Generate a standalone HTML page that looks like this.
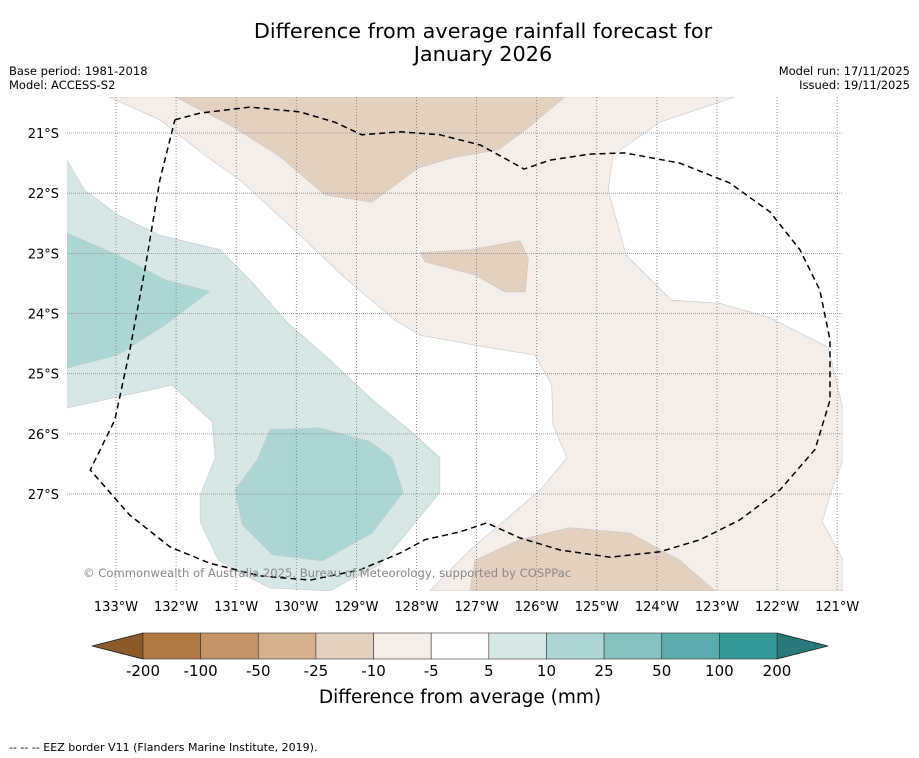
<!DOCTYPE html>
<html><head><meta charset="utf-8">
<style>
body{margin:0;background:#fff;font-family:"Liberation Sans","DejaVu Sans",sans-serif;}
svg{display:block}
</style></head>
<body>
<svg id="chart" width="919" height="758" viewBox="0 0 919 758" xmlns="http://www.w3.org/2000/svg">
<text x="483" y="38" text-anchor="middle" font-size="20.8" font-family="DejaVu Sans, sans-serif">Difference from average rainfall forecast for</text>
<text x="483" y="61" text-anchor="middle" font-size="20.8" font-family="DejaVu Sans, sans-serif">January 2026</text>
<text x="9" y="75" font-size="11.5" font-family="DejaVu Sans, sans-serif">Base period: 1981-2018</text>
<text x="9" y="89" font-size="11.5" font-family="DejaVu Sans, sans-serif">Model: ACCESS-S2</text>
<text x="910" y="75" text-anchor="end" font-size="11.5" font-family="DejaVu Sans, sans-serif">Model run: 17/11/2025</text>
<text x="910" y="89" text-anchor="end" font-size="11.5" font-family="DejaVu Sans, sans-serif">Issued: 19/11/2025</text>
<defs><clipPath id="mapclip"><rect x="67" y="97" width="776" height="494"/></clipPath></defs>
<g id="fills" clip-path="url(#mapclip)"></g>
<g id="grid"></g>
<g id="eez" clip-path="url(#mapclip)"></g>
<g id="axes"></g>
<text x="83" y="577" font-size="11.6" fill="#888" font-family="DejaVu Sans, sans-serif">© Commonwealth of Australia 2025, Bureau of Meteorology, supported by COSPPac</text>
<g id="cbar"></g>
<text x="460" y="703" text-anchor="middle" font-size="18.5" font-family="DejaVu Sans, sans-serif">Difference from average (mm)</text>
<text x="9" y="751" font-size="11" font-family="DejaVu Sans, sans-serif">--  --  -- EEZ border V11 (Flanders Marine Institute, 2019).</text>
</svg>
<script>
// axis data
const lonTicks = [133,132,131,130,129,128,127,126,125,124,123,122,121];
const latTicks = [21,22,23,24,25,26,27];
const cbLevels = [-200,-100,-50,-25,-10,-5,5,10,25,50,100,200];
const cbColors = ["#b07a42","#c29467","#d4b08f","#e4d0bf","#f4ede8","#ffffff","#d5e8e7","#acd6d6","#84c1bf","#5aabab","#339a98"];
const cbUnder = "#8c5a28";
const cbOver = "#27797a";
// contour polygons: [lonW, latS]
const polyLightBrown = [[133.13,20.40],[122.70,20.40],[123.95,20.82],[124.73,21.37],[124.81,21.95],[124.51,23.03],[123.75,23.78],[122.95,23.83],[122.12,24.07],[121.15,24.56],[120.90,25.60],[120.90,26.43],[121.09,26.93],[121.25,27.46],[120.90,28.10],[120.90,28.61],[127.78,28.61],[127.11,27.93],[125.94,26.93],[125.50,26.40],[125.73,25.85],[125.75,25.19],[126.03,24.69],[126.78,24.57],[127.94,24.36],[128.36,24.11],[129.19,23.41],[130.10,22.55],[130.94,21.78],[131.52,21.37],[132.27,20.78]];
const polyTanTop = [[132.02,20.40],[125.53,20.40],[126.19,20.95],[126.64,21.28],[127.36,21.40],[127.97,21.58],[128.74,22.15],[129.52,22.03],[130.30,21.37],[131.10,20.87]];
const polyTanMid = [[127.94,22.99],[127.11,22.94],[126.28,22.79],[126.14,23.08],[126.19,23.64],[126.53,23.64],[127.03,23.36],[127.86,23.14]];
const polyTanBottom = [[127.11,28.61],[127.03,28.10],[126.28,27.76],[125.45,27.56],[124.45,27.65],[123.62,28.10],[123.03,28.61]];
const polyTealLight = [[133.82,21.45],[133.52,21.95],[132.97,22.36],[132.27,22.70],[131.27,22.94],[130.77,23.44],[130.14,24.16],[129.44,24.77],[128.77,25.40],[128.02,26.02],[127.61,26.40],[127.61,26.97],[128.19,27.68],[128.61,28.18],[129.11,28.43],[129.44,28.61],[130.44,28.56],[130.94,28.31],[131.30,28.10],[131.60,27.46],[131.60,27.02],[131.35,26.40],[131.40,25.80],[132.07,25.19],[132.43,25.27],[133.82,25.57]];
const polyTealLeft = [[133.82,22.66],[132.97,23.03],[132.18,23.44],[131.44,23.63],[132.18,24.19],[132.97,24.69],[133.82,24.91]];
const polyTealCenter = [[130.44,25.93],[129.61,25.90],[128.77,26.13],[128.41,26.40],[128.22,26.97],[128.74,27.65],[129.57,28.11],[130.40,28.01],[130.90,27.51],[131.02,26.93],[130.65,26.43]];
const eezLine = [[132.02,20.78],[131.60,20.67],[130.77,20.57],[129.94,20.65],[129.36,20.82],[128.91,21.03],[128.27,20.98],[127.61,21.03],[126.94,21.20],[126.53,21.42],[126.21,21.60],[125.78,21.45],[125.11,21.35],[124.53,21.33],[123.62,21.50],[122.79,21.83],[122.12,22.31],[121.62,22.94],[121.29,23.61],[121.12,24.44],[121.12,25.44],[121.37,26.26],[121.95,26.93],[122.62,27.43],[123.28,27.76],[123.95,27.96],[124.78,28.05],[125.61,27.93],[126.28,27.73],[126.83,27.48],[127.28,27.63],[127.86,27.76],[128.27,27.98],[128.94,28.26],[129.77,28.43],[130.60,28.36],[131.44,28.15],[132.10,27.88],[132.77,27.35],[133.43,26.60],[133.02,25.77],[132.77,24.61],[132.52,23.28],[132.27,21.78],[132.02,20.78]];

const X0=116, PXLON=60.1, Y0=133, PXLAT=60.17;
function xs(lonW){return X0+(133-lonW)*PXLON;}
function ys(latS){return Y0+(latS-21)*PXLAT;}
const NS="http://www.w3.org/2000/svg";
function mk(tag,attrs,parent){const e=document.createElementNS(NS,tag);for(const k in attrs)e.setAttribute(k,attrs[k]);parent.appendChild(e);return e;}
function pts(p){return p.map(q=>xs(q[0]).toFixed(1)+","+ys(q[1]).toFixed(1)).join(" ");}

const fills=document.getElementById('fills');
const layers=[[polyLightBrown,cbColors[4],'light-brown-contour'],[polyTanTop,cbColors[3],'tan-contour-north'],[polyTanMid,cbColors[3],'tan-contour-center'],[polyTanBottom,cbColors[3],'tan-contour-south'],[polyTealLight,cbColors[6],'light-teal-contour'],[polyTealLeft,cbColors[7],'teal-contour-west'],[polyTealCenter,cbColors[7],'teal-contour-center']];
layers.forEach(l=>{
  const p=mk('polygon',{points:pts(l[0]),fill:l[1],stroke:'#c8c8c8','stroke-width':0.6},fills);
  
  
});

const grid=document.getElementById('grid'), axes=document.getElementById('axes');
lonTicks.forEach(v=>{
  const x=xs(v);
  const g=mk('line',{x1:x,y1:97,x2:x,y2:591,stroke:'#777','stroke-width':0.8,'stroke-dasharray':'1,2'},grid);
  
  
  const t=mk('text',{x:x,y:611,'text-anchor':'middle','font-size':13,'font-family':'DejaVu Sans, sans-serif'},axes);
  t.textContent=v+'°W';
  
  
});
latTicks.forEach(v=>{
  const y=ys(v);
  const g=mk('line',{x1:67,y1:y,x2:843,y2:y,stroke:'#888','stroke-width':0.8,'stroke-dasharray':'1,1'},grid);
  
  
  const t=mk('text',{x:59,y:y+5,'text-anchor':'end','font-size':13,'font-family':'DejaVu Sans, sans-serif'},axes);
  t.textContent=v+'°S';
  
  
});

const eez=document.getElementById('eez');
const el=mk('polyline',{points:pts(eezLine),fill:'none',stroke:'#000','stroke-width':1.5,'stroke-dasharray':'6,4'},eez);



const cb=document.getElementById('cbar');
const cbx0=143, cbx1=777, cby=633, cbh=26, n=cbColors.length, w=(cbx1-cbx0)/n;
const under=mk('polygon',{points:`${cbx0},${cby} ${cbx0},${cby+cbh} 92,${cby+cbh/2}`,fill:cbUnder,stroke:'#222','stroke-width':0.8},cb);


const over=mk('polygon',{points:`${cbx1},${cby} ${cbx1},${cby+cbh} 828,${cby+cbh/2}`,fill:cbOver,stroke:'#222','stroke-width':0.8},cb);


cbColors.forEach((c,i)=>{
  const r=mk('rect',{x:cbx0+i*w,y:cby,width:w,height:cbh,fill:c,stroke:'#333','stroke-width':0.6},cb);
  
  
});
cbLevels.forEach((v,i)=>{
  const t=mk('text',{x:cbx0+i*w,y:676,'text-anchor':'middle','font-size':15,'font-family':'DejaVu Sans, sans-serif'},cb);
  t.textContent=v;
  
  
});
</script>
</body></html>
